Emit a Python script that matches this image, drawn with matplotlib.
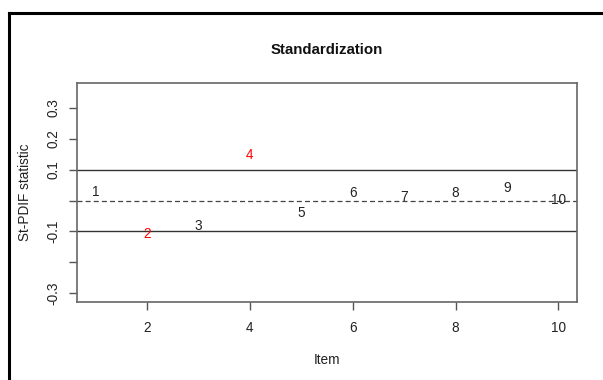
import matplotlib
matplotlib.use("Agg")
import matplotlib.pyplot as plt
from matplotlib.lines import Line2D

plt.rcParams['font.family'] = ['Liberation Sans', 'DejaVu Sans']

items = [1, 2, 3, 4, 5, 6, 7, 8, 9, 10]
labels = ["1", "2", "3", "4", "5", "6", "7", "8", "9", "10"]
stat = [0.029, -0.107, -0.081, 0.146, -0.039, 0.023, 0.013, 0.023, 0.042, 0.003]
colors = ["#222222", "red", "#222222", "red", "#222222", "#222222", "#222222", "#222222", "#222222", "#222222"]
thresh = 0.1
yticks = [-0.3, -0.2, -0.1, 0.0, 0.1, 0.2, 0.3]
yticklabels = ["-0.3", "", "-0.1", "", "0.1", "0.2", "0.3"]
xticks = [2, 4, 6, 8, 10]

W, H = 603, 380
fig = plt.figure(figsize=(W / 100, H / 100), dpi=100)
ax = fig.add_axes([77 / W, 1 - 302 / H, (577 - 77) / W, (302 - 83) / H])

ax.set_xlim(0.64, 10.36)
ax.set_ylim(-0.329, 0.381)

ax.axhline(thresh, color="#333333", lw=1.0)
ax.axhline(-thresh, color="#333333", lw=1.0)
ax.axhline(0, color="#444444", lw=0.9, ls=(0, (4, 2.5)))

for x, y, t, c in zip(items, stat, labels, colors):
    ax.text(x, y, t, color=c, fontsize=9.8, ha="center", va="center")

ax.set_xticks(xticks)
ax.set_xticklabels([str(v) for v in xticks])
ax.set_yticks(yticks)
ax.set_yticklabels(yticklabels, rotation=90, va="center")
ax.tick_params(axis="both", colors="#555555", labelcolor="#222222", labelsize=9.8, length=6, width=1)
ax.tick_params(axis="x", pad=8)
ax.tick_params(axis="y", pad=6)
for s in ax.spines.values():
    s.set_color("#666666")
    s.set_linewidth(1.2)

ax.set_title("Standardization", fontsize=10.8, fontweight="bold", color="#111111", pad=21)
ax.set_xlabel("Item", fontsize=9.8, color="#222222", labelpad=13)
ax.set_ylabel("St-PDIF statistic", fontsize=9.8, color="#222222", labelpad=10)

# outer black frame (left and top edges visible)
fig.add_artist(Line2D([9 / W, 9 / W], [0, 1 - 13 / H], transform=fig.transFigure, color="black", lw=2.2))
fig.add_artist(Line2D([9 / W, 1], [1 - 13 / H, 1 - 13 / H], transform=fig.transFigure, color="black", lw=2.2))

fig.savefig("out.png", dpi=100)
